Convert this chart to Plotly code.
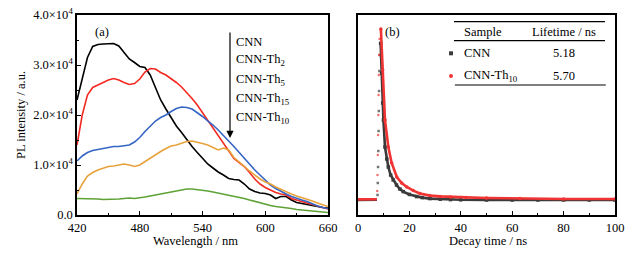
import plotly.graph_objects as go

# ---------------- Panel (a): PL spectra ----------------
wavelength = list(range(420, 661, 5))
pl_cnn = [2.3, 2.75, 3.15, 3.37, 3.41, 3.42, 3.42, 3.43, 3.38, 3.25, 3.12, 3.05, 2.97, 2.95, 2.8, 2.55,
          2.3, 2.12, 1.95, 1.78, 1.65, 1.5, 1.37, 1.25, 1.13, 1.02, 0.94, 0.86, 0.8, 0.73, 0.71, 0.7,
          0.62, 0.52, 0.47, 0.44, 0.43, 0.4, 0.33, 0.37, 0.37, 0.3, 0.25, 0.23, 0.2, 0.18, 0.17, 0.15, 0.14]
pl_th2 = [1.4, 2.0, 2.4, 2.55, 2.6, 2.65, 2.7, 2.73, 2.7, 2.65, 2.61, 2.63, 2.72, 2.86, 2.93, 2.92,
          2.85, 2.8, 2.73, 2.65, 2.56, 2.45, 2.33, 2.2, 2.05, 1.9, 1.75, 1.6, 1.45, 1.28, 1.13, 1.05,
          0.97, 0.85, 0.72, 0.62, 0.55, 0.5, 0.45, 0.42, 0.4, 0.33, 0.3, 0.27, 0.23, 0.2, 0.17, 0.14, 0.12]
pl_th5 = [1.08, 1.18, 1.25, 1.29, 1.31, 1.33, 1.35, 1.37, 1.37, 1.38, 1.4, 1.46, 1.55, 1.67, 1.78, 1.88,
          1.95, 2.0, 2.07, 2.13, 2.16, 2.15, 2.12, 2.05, 1.97, 1.88, 1.8, 1.7, 1.6, 1.48, 1.37, 1.25,
          1.13, 1.02, 0.9, 0.8, 0.7, 0.6, 0.53, 0.47, 0.42, 0.37, 0.33, 0.3, 0.27, 0.22, 0.18, 0.15, 0.13]
pl_th15 = [0.42, 0.62, 0.78, 0.85, 0.9, 0.94, 0.97, 0.98, 1.0, 1.02, 1.0, 0.97, 1.0, 1.07, 1.14, 1.2,
           1.27, 1.33, 1.38, 1.4, 1.43, 1.47, 1.48, 1.46, 1.43, 1.4, 1.35, 1.3, 1.34, 1.3, 1.15, 1.05,
           0.97, 0.88, 0.8, 0.72, 0.66, 0.62, 0.56, 0.51, 0.47, 0.42, 0.38, 0.35, 0.32, 0.28, 0.24, 0.2, 0.17]
pl_th10 = [0.33, 0.33, 0.32, 0.32, 0.32, 0.31, 0.31, 0.32, 0.32, 0.33, 0.34, 0.33, 0.34, 0.36, 0.38, 0.4,
           0.42, 0.44, 0.46, 0.48, 0.5, 0.52, 0.52, 0.51, 0.5, 0.48, 0.46, 0.44, 0.42, 0.39, 0.37, 0.35,
           0.33, 0.3, 0.27, 0.24, 0.21, 0.19, 0.17, 0.16, 0.15, 0.13, 0.11, 0.1, 0.09, 0.08, 0.07, 0.06, 0.05]
spectra_names = ["CNN", "CNN-Th<sub>2</sub>", "CNN-Th<sub>5</sub>", "CNN-Th<sub>15</sub>", "CNN-Th<sub>10</sub>"]
spectra_colors = ["#000000", "#f42a22", "#3565c5", "#e8a23c", "#5ea236"]
y_tick_vals = [0, 1e4, 2e4, 3e4, 4e4]
y_tick_text = ["0.0", "1.0×10<sup>4</sup>", "2.0×10<sup>4</sup>", "3.0×10<sup>4</sup>", "4.0×10<sup>4</sup>"]

# ---------------- Panel (b): decay curves (normalised counts) ----------------
# baseline before excitation
t_base = [0, 1, 2, 3, 4, 5, 6, 7, 7.4]
d_base_cnn = [0.075, 0.075, 0.075, 0.075, 0.075, 0.075, 0.075, 0.076, 0.076]
d_base_th10 = [0.078, 0.078, 0.078, 0.078, 0.078, 0.078, 0.078, 0.078, 0.079]
# rising edge (sparse points)
t_rise_cnn = [7.6, 7.7, 7.8, 7.9, 8.0, 8.1, 8.2, 8.3, 8.5]
d_rise_cnn = [0.1, 0.16, 0.24, 0.32, 0.42, 0.52, 0.62, 0.72, 0.8]
t_rise_th10 = [7.5, 7.6, 7.7, 7.8, 7.9, 8.0, 8.1, 8.2, 8.4]
d_rise_th10 = [0.12, 0.2, 0.3, 0.4, 0.5, 0.6, 0.7, 0.8, 0.88]
# decay part
t_cnn = [8.8, 9.2, 9.6, 9.9, 10.5, 11.2, 11.8, 12.7, 13.7, 15, 16.3, 17.6, 20, 22.8, 25, 28, 32, 36,
         40, 50, 60, 70, 80, 90, 100]
d_cnn = [0.858, 0.71, 0.56, 0.475, 0.34, 0.28, 0.24, 0.2, 0.175, 0.15, 0.13, 0.117, 0.103, 0.092,
         0.087, 0.082, 0.079, 0.077, 0.076, 0.075, 0.075, 0.075, 0.075, 0.075, 0.075]
t_th10 = [8.9, 9.6, 10.5, 11.8, 13.1, 15.1, 17, 19, 21.5, 24.1, 28, 32, 36, 42, 50, 63, 80, 100]
d_th10 = [0.93, 0.725, 0.475, 0.34, 0.26, 0.19, 0.16, 0.14, 0.122, 0.108, 0.097, 0.093, 0.09, 0.088,
          0.085, 0.082, 0.08, 0.08]
table_rows = [("CNN", "5.18"), ("CNN-Th<sub>10</sub>", "5.70")]
decay_colors = ["#3a3a3a", "#f03434"]
decay_symbols = ["square", "circle"]

FONT = "Liberation Serif, Times New Roman, serif"
fig = go.Figure()

for ys, c in zip([pl_cnn, pl_th2, pl_th5, pl_th15, pl_th10], spectra_colors):
    fig.add_trace(go.Scatter(x=wavelength, y=[v * 1e4 for v in ys], mode="lines",
                             line=dict(color=c, width=1.6), xaxis="x", yaxis="y", showlegend=False))

for tb, db, tr, dr, tt, dd, c, s in zip([t_base, t_base], [d_base_cnn, d_base_th10],
                                        [t_rise_cnn, t_rise_th10], [d_rise_cnn, d_rise_th10],
                                        [t_cnn, t_th10], [d_cnn, d_th10], decay_colors, decay_symbols):
    fig.add_trace(go.Scatter(x=tb, y=db, mode="lines", line=dict(color=c, width=2.6),
                             xaxis="x2", yaxis="y2", showlegend=False))
    fig.add_trace(go.Scatter(x=tr, y=dr, mode="markers", marker=dict(color=c, size=2.5, symbol=s,
                             opacity=0.7), xaxis="x2", yaxis="y2", showlegend=False))
    fig.add_trace(go.Scatter(x=tt, y=dd, mode="lines+markers", line=dict(color=c, width=2.6),
                             marker=dict(color=c, size=3.5, symbol=s),
                             xaxis="x2", yaxis="y2", showlegend=False))

# table markers
table_y = [0.8085, 0.695]
for (name, val), yy, c, s in zip(table_rows, table_y, decay_colors, decay_symbols):
    fig.add_trace(go.Scatter(x=[36.2], y=[yy], mode="markers", marker=dict(color=c, size=4, symbol=s),
                             xaxis="x2", yaxis="y2", showlegend=False))

TS = 12.5
axis_common = dict(showline=True, linecolor="black", linewidth=1.5, mirror=True, ticks="inside",
                   ticklen=4, tickcolor="black", showgrid=False, zeroline=False, automargin=False,
                   tickfont=dict(family=FONT, size=TS, color="black"))

fig.update_layout(
    width=644, height=258, margin=dict(l=0, r=0, t=0, b=0, pad=0, autoexpand=False),
    paper_bgcolor="white", plot_bgcolor="white",
    xaxis=dict(domain=[77 / 644, 328 / 644], range=[420, 660], tickvals=[420, 480, 540, 600, 660],
               minor=dict(ticks="inside", ticklen=2.5, tickcolor="black", dtick=30, tick0=420),
               anchor="y", **axis_common),
    yaxis=dict(domain=[1 - 215 / 258, 1 - 15 / 258], range=[0, 40000], tickvals=y_tick_vals,
               ticktext=y_tick_text,
               minor=dict(ticks="inside", ticklen=2.5, tickcolor="black", dtick=5000, tick0=0),
               anchor="x", **axis_common),
    xaxis2=dict(domain=[358 / 644, 615 / 644], range=[0, 100], tickvals=[0, 20, 40, 60, 80, 100],
                minor=dict(ticks="inside", ticklen=2.5, tickcolor="black", dtick=10, tick0=0),
                anchor="y2", **axis_common),
    yaxis2=dict(domain=[1 - 215 / 258, 1 - 15 / 258], range=[0, 1], showticklabels=False,
                showline=True, linecolor="black", linewidth=1.5, mirror=True, ticks="",
                showgrid=False, zeroline=False, anchor="x2", automargin=False),
)

ann = []
def txt(x, y, s, xref="paper", yref="paper", xanchor="center", size=12.5, textangle=0):
    ann.append(dict(x=x, y=y, xref=xref, yref=yref, text=s, showarrow=False, xanchor=xanchor,
                    yanchor="middle", textangle=textangle,
                    font=dict(family=FONT, size=size, color="black")))

# axis titles
txt(21 / 644, 1 - 115 / 258, "PL intensity / a.u.", textangle=-90)
txt(195 / 644, 1 - 241 / 258, "Wavelength / nm")
txt(488 / 644, 1 - 241 / 258, "Decay time / ns")
# panel labels
txt(102 / 644, 1 - 32 / 258, "(a)")
txt(392 / 644, 1 - 32 / 258, "(b)")
# panel (a) sample list
list_y = [42, 60, 80, 99, 118]
for s, py in zip(spectra_names, list_y):
    txt(234 / 644, 1 - py / 258, s, xanchor="left")
# panel (b) table text
txt(48.6, 0.915, "Sample", xref="x2", yref="y2")
txt(80.2, 0.915, "Lifetime / ns", xref="x2", yref="y2")
for (name, val), yy in zip(table_rows, table_y):
    txt(40.3, yy, name, xref="x2", yref="y2", xanchor="left")
    txt(80.2, yy, val, xref="x2", yref="y2")

# arrow in panel (a)
ann.append(dict(x=230 / 644, y=1 - 138 / 258, ax=0, ay=-107, xref="paper", yref="paper",
                axref="pixel", ayref="pixel", showarrow=True, arrowhead=2, arrowsize=1.2,
                arrowwidth=1.2, arrowcolor="black", text=""))
fig.update_layout(annotations=ann)

# table rules
for y0, x0, x1 in [(0.9665, 37.35, 96.1), (0.8715, 37.35, 96.1), (0.65, 37.7, 96.4)]:
    fig.add_shape(type="line", xref="x2", yref="y2", x0=x0, x1=x1, y0=y0, y1=y0,
                  line=dict(color="black", width=1.2))

fig.write_html("out.html", config={"displayModeBar": False},
               post_script="document.body.style.margin='0px';")
